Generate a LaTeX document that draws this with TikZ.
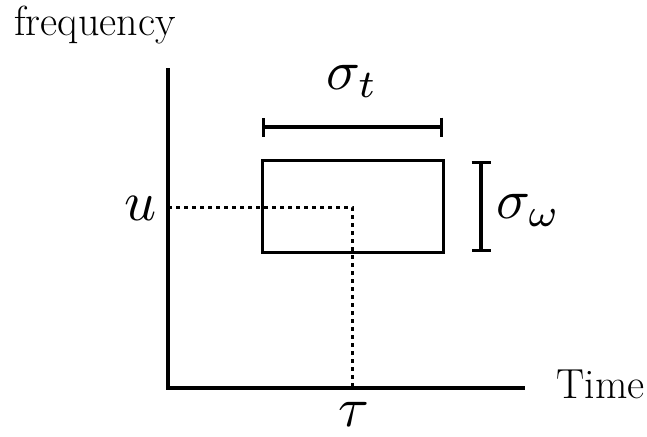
\documentclass[tikz,border=0pt]{standalone}
\usepackage{graphicx}
\usetikzlibrary{arrows.meta}
\newcommand{\bigsym}[1]{\scalebox{5.6}{$#1$}}
\begin{document}
\begin{tikzpicture}[x=1pt,y=-1pt,
    axis/.style={line width=4pt},
    guide/.style={line width=3pt, dash pattern=on 4pt off 4pt},
    span/.style={line width=4pt, {Bar[width=19pt,line width=3pt]}-{Bar[width=19pt,line width=3pt]}},
    lbl/.style={font=\fontsize{42}{46}\selectfont, inner sep=0pt},
    sym/.style={inner sep=0pt}]
  \useasboundingbox (0,0) rectangle (647,436);
  % axes
  \coordinate (O) at (168,388);
  \coordinate (ytop) at (168,68);
  \coordinate (xend) at (525,388);
  \draw[axis] (ytop) -- (O) -- (xend);
  \node[lbl, anchor=base] (freq) at (95,36) {frequency};
  \node[lbl, anchor=base east] (time) at (645,398) {Time};
  % window centre
  \coordinate (c) at (352,207);
  \coordinate (cy) at (O |- c);
  \coordinate (cx) at (c |- O);
  \draw[guide] (cy) -- (c) -- (cx);
  \node[sym, anchor=base east] (u) at (157,220) {\bigsym{u}};
  \node[sym, anchor=base] (tau) at (354,426) {\bigsym{\tau}};
  % box
  \draw[line width=3pt] (262,160) rectangle (443,252);
  \draw[span] (262,127) -- (443,127);
  \draw[span] (481,161) -- (481,252);
  \node[sym, anchor=base west] (st) at (326,89) {\bigsym{\sigma_t}};
  \node[sym, anchor=base west] (sw) at (496,218) {\bigsym{\sigma_\omega}};
\end{tikzpicture}
\end{document}
